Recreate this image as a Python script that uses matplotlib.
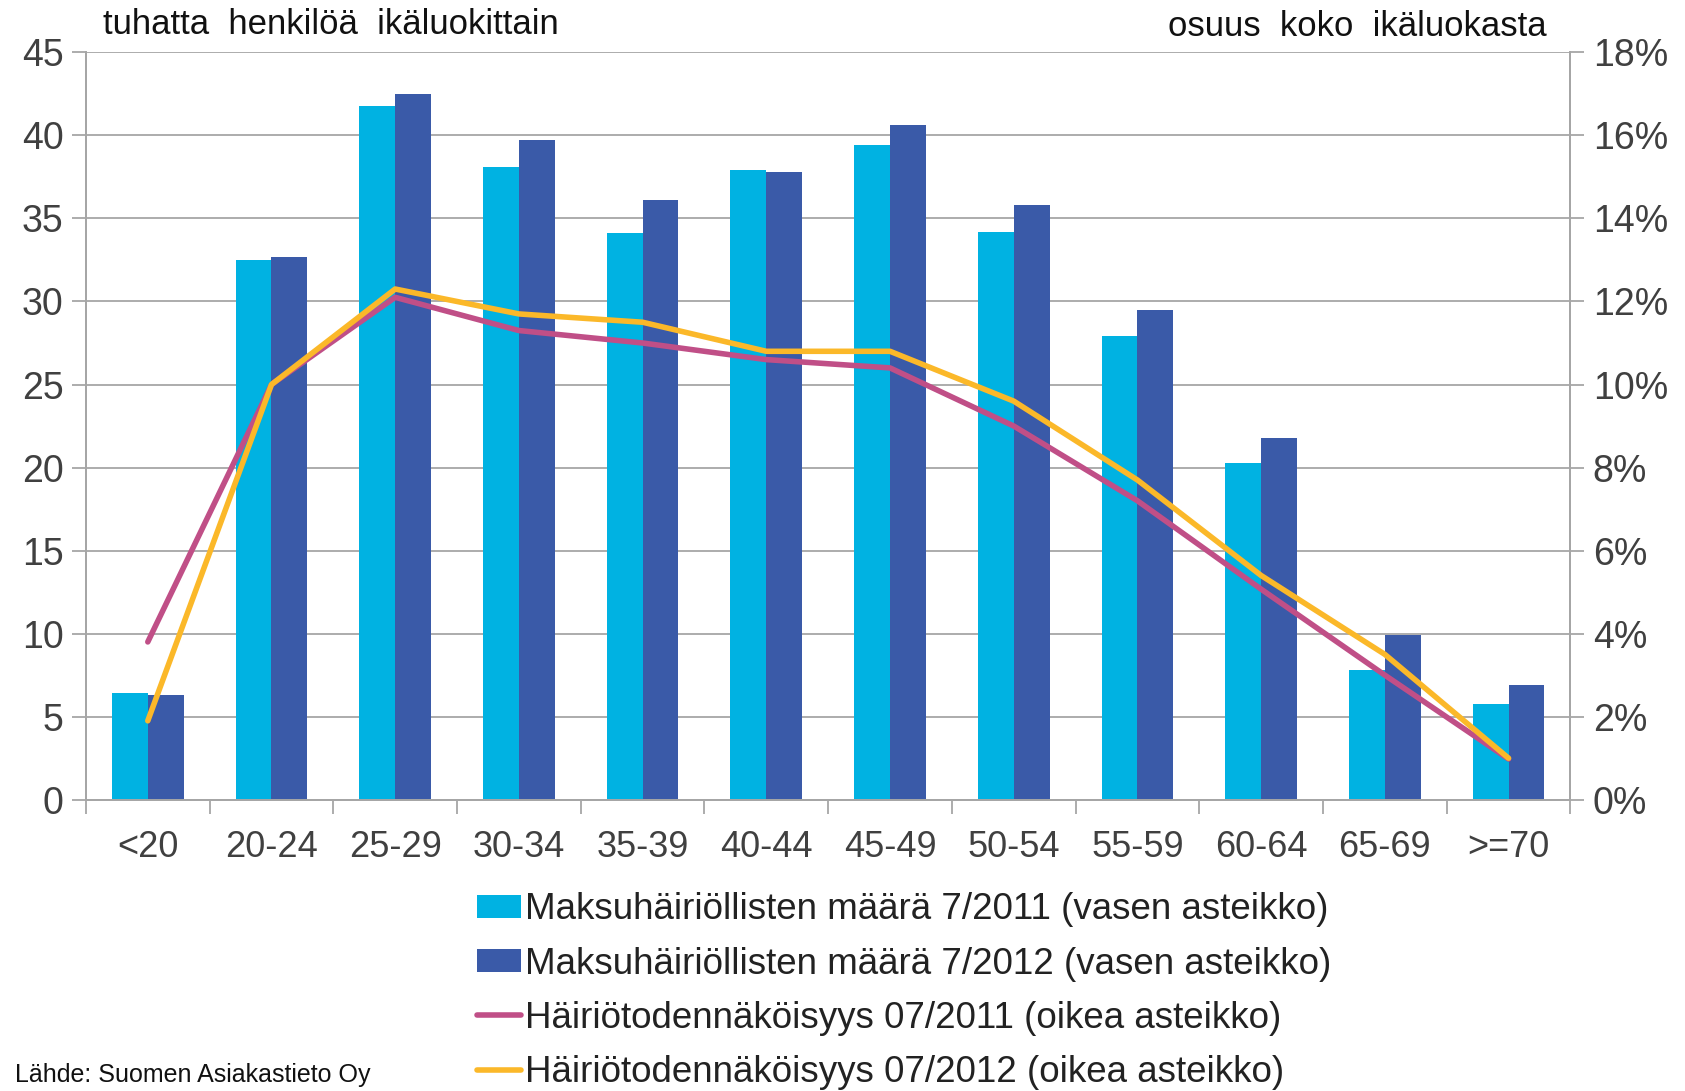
import matplotlib
matplotlib.use("Agg")
import matplotlib.pyplot as plt
import numpy as np

# Data
ages = ["<20", "20-24", "25-29", "30-34", "35-39", "40-44",
        "45-49", "50-54", "55-59", "60-64", "65-69", ">=70"]
count_2011 = [6.4, 32.5, 41.8, 38.1, 34.1, 37.9, 39.4, 34.2, 27.9, 20.3, 7.8, 5.75]
count_2012 = [6.3, 32.7, 42.5, 39.7, 36.1, 37.8, 40.6, 35.8, 29.5, 21.8, 9.9, 6.9]
prob_2011 = [3.8, 10.0, 12.1, 11.3, 11.0, 10.6, 10.4, 9.0, 7.2, 5.07, 3.0, 0.98]
prob_2012 = [1.9, 10.0, 12.3, 11.7, 11.5, 10.8, 10.8, 9.6, 7.7, 5.4, 3.5, 1.0]
left_ticks = list(range(0, 50, 5))
right_ticks = list(range(0, 20, 2))

plt.rcParams['font.family'] = ['Liberation Sans', 'DejaVu Sans']

c_light = "#00B2E2"
c_dark = "#3A5AA8"
c_mag = "#C04F87"
c_yel = "#FBB829"
grid_c = "#A6A6A6"
txt_c = "#404040"

fig = plt.figure(figsize=(16.85, 10.91), dpi=100)
ax = fig.add_axes([0.051, 0.267, 0.881, 0.685])
ax2 = ax.twinx()

x = np.arange(len(ages))
w = 0.29
b1 = ax.bar(x - w / 2, count_2011, w, color=c_light, zorder=2,
            label="Maksuhäiriöllisten määrä 7/2011 (vasen asteikko)")
b2 = ax.bar(x + w / 2, count_2012, w, color=c_dark, zorder=2,
            label="Maksuhäiriöllisten määrä 7/2012 (vasen asteikko)")
l1, = ax2.plot(x, prob_2011, color=c_mag, lw=4, solid_capstyle='round',
               solid_joinstyle='round',
               label="Häiriötodennäköisyys 07/2011 (oikea asteikko)")
l2, = ax2.plot(x, prob_2012, color=c_yel, lw=4, solid_capstyle='round',
               solid_joinstyle='round',
               label="Häiriötodennäköisyys 07/2012 (oikea asteikko)")

ax.set_xlim(-0.5, len(ages) - 0.5)
ax.set_ylim(0, 45)
ax2.set_ylim(0, 18)
ax.set_yticks(left_ticks)
ax2.set_yticks(right_ticks)
ax2.set_yticklabels([f"{t}%" for t in right_ticks])

ax.set_xticks(x)
ax.set_xticklabels(ages)
ax.set_xticks(np.arange(-0.5, len(ages), 1), minor=True)
ax.tick_params(axis='x', which='major', length=0, pad=22, labelsize=26, labelcolor=txt_c)
ax.tick_params(axis='x', which='minor', length=10, width=1.3, color=grid_c)
ax.tick_params(axis='y', length=10, width=1.3, color=grid_c, labelsize=27,
               labelcolor=txt_c, pad=6)
ax2.tick_params(axis='y', length=10, width=1.3, color=grid_c, labelsize=27,
                labelcolor=txt_c, pad=6)

ax.yaxis.grid(True, color=grid_c, lw=1.3, zorder=0)
ax.set_axisbelow(True)
for a in (ax, ax2):
    a.spines['top'].set_visible(False)
    for s in ('left', 'right', 'bottom'):
        a.spines[s].set_color(grid_c)
        a.spines[s].set_linewidth(1.3)
ax2.set_zorder(ax.get_zorder() + 1)
ax2.patch.set_visible(False)

fig.text(0.061, 0.978, "tuhatta  henkilöä  ikäluokittain", fontsize=25,
         color="#111111", va='center', ha='left')
fig.text(0.918, 0.976, "osuus  koko  ikäluokasta", fontsize=25,
         color="#111111", va='center', ha='right')

leg = fig.legend(handles=[b1, b2, l1, l2], loc='upper left',
                 bbox_to_anchor=(0.283, 0.182), frameon=False,
                 prop={'size': 26.5},
                 handlelength=1.2, handleheight=0.6, handletextpad=0.12,
                 labelspacing=0.52, borderaxespad=0, borderpad=0)
for t in leg.get_texts():
    t.set_color("#222222")

fig.text(0.009, 0.004, "Lähde: Suomen Asiakastieto Oy", fontsize=18,
         color="#111111", va='bottom', ha='left')

fig.savefig("out.png", dpi=100)
